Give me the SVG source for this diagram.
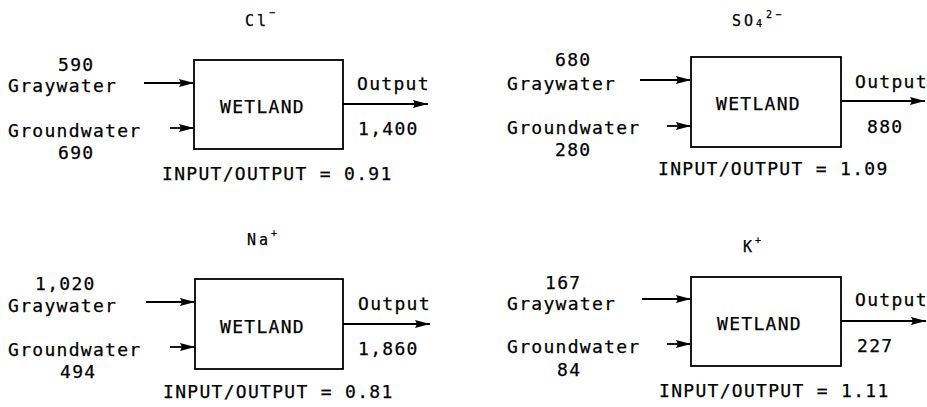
<svg xmlns="http://www.w3.org/2000/svg" width="927" height="407" viewBox="0 0 927 407">
<style>
text{font-family:"DejaVu Sans Mono","Liberation Mono",monospace;font-size:18px;letter-spacing:1.3px;fill:#000;stroke:#000;stroke-width:0.25}
.t{font-size:15px;letter-spacing:3px}
.s{font-size:10px;letter-spacing:0}
rect{fill:#fff;stroke:#000;stroke-width:1.8}
.c line{stroke:#000;stroke-width:1.8;marker-end:url(#ah)}
</style>
<defs>
<marker id="ah" markerWidth="15" markerHeight="10" refX="15" refY="5" orient="auto" markerUnits="userSpaceOnUse"><path d="M0,1 L15,5 L0,9 L2,5 Z" fill="#000"/></marker>
</defs>
<g id="cl">
<text class="t" x="245" y="26">Cl<tspan class="s" dy="-10">−</tspan></text>
<rect x="194" y="60" width="149" height="89"/>
<text x="220" y="113">WETLAND</text>
<text x="58" y="71">590</text>
<text x="8" y="92">Graywater</text>
<text x="8" y="137">Groundwater</text>
<text x="58" y="159">690</text>
<text x="357" y="90">Output</text>
<text x="358" y="135">1,400</text>
<text x="162" y="180">INPUT/OUTPUT = 0.91</text>
</g>
<g id="so4">
<text class="t" x="732" y="26">SO<tspan class="s" dy="1">4</tspan><tspan class="s" dx="4" dy="-9">2</tspan><tspan class="s" dx="3">−</tspan></text>
<rect x="691" y="57" width="150" height="90"/>
<text x="716" y="110">WETLAND</text>
<text x="555" y="66">680</text>
<text x="507" y="90">Graywater</text>
<text x="507" y="134">Groundwater</text>
<text x="555" y="156">280</text>
<text x="855" y="88">Output</text>
<text x="867" y="133">880</text>
<text x="658" y="175">INPUT/OUTPUT = 1.09</text>
</g>
<g id="na">
<text class="t" x="247" y="245">Na<tspan class="s" dy="-8">+</tspan></text>
<rect x="195" y="279" width="148" height="90"/>
<text x="220" y="333">WETLAND</text>
<text x="35" y="290">1,020</text>
<text x="8" y="312">Graywater</text>
<text x="8" y="356">Groundwater</text>
<text x="60" y="378">494</text>
<text x="358" y="310">Output</text>
<text x="358" y="355">1,860</text>
<text x="163" y="398">INPUT/OUTPUT = 0.81</text>
</g>
<g id="k">
<text class="t" x="743" y="252">K<tspan class="s" dy="-8">+</tspan></text>
<rect x="691" y="277" width="150" height="89"/>
<text x="717" y="330">WETLAND</text>
<text x="545" y="289">167</text>
<text x="507" y="310">Graywater</text>
<text x="507" y="353">Groundwater</text>
<text x="557" y="376">84</text>
<text x="855" y="306">Output</text>
<text x="857" y="352">227</text>
<text x="659" y="397">INPUT/OUTPUT = 1.11</text>
</g>
<g id="connectors" class="c">
<line x1="144" y1="83" x2="194" y2="83"/>
<line x1="170" y1="128" x2="194" y2="128"/>
<line x1="343" y1="104" x2="428" y2="104"/>
<line x1="640" y1="80" x2="691" y2="80"/>
<line x1="667" y1="126" x2="691" y2="126"/>
<line x1="841" y1="101" x2="925" y2="101"/>
<line x1="146" y1="302" x2="195" y2="302"/>
<line x1="170" y1="347" x2="195" y2="347"/>
<line x1="343" y1="324" x2="430" y2="324"/>
<line x1="642" y1="299" x2="691" y2="299"/>
<line x1="667" y1="344" x2="691" y2="344"/>
<line x1="841" y1="321" x2="926" y2="321"/>
</g>
</svg>
